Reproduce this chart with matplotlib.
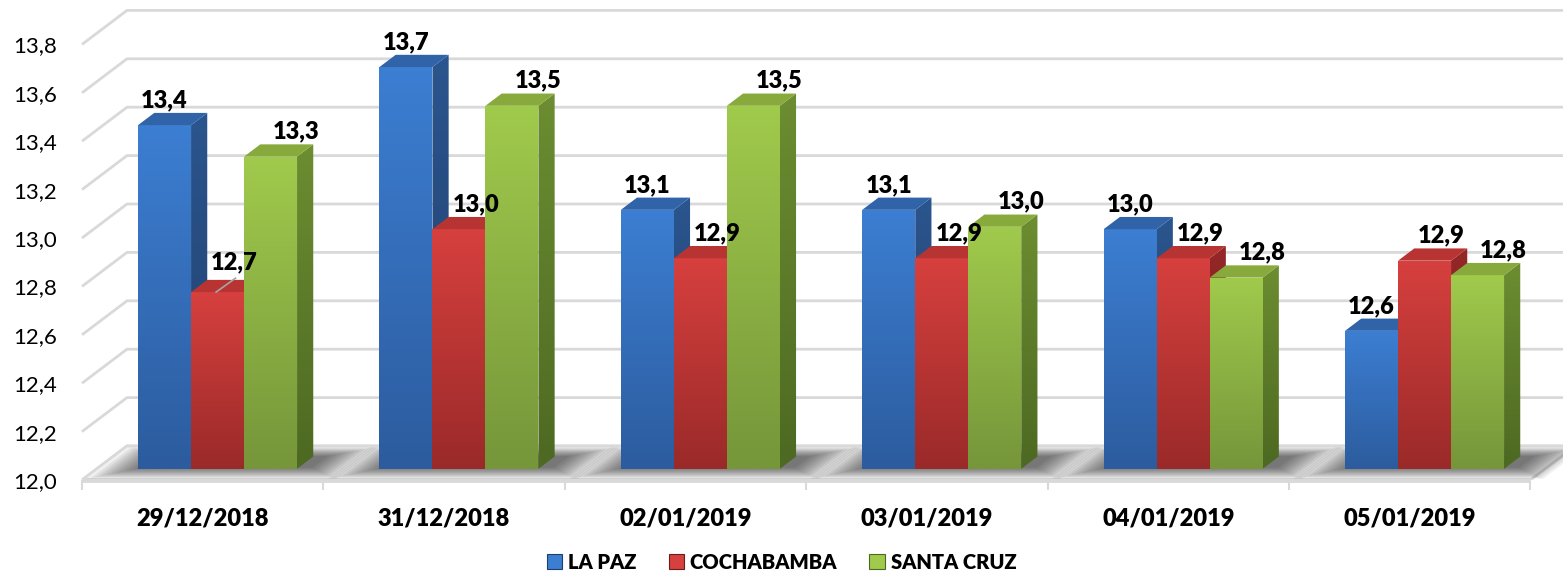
import numpy as np
import matplotlib.pyplot as plt
from matplotlib.patches import Polygon, Patch
from matplotlib.colors import to_rgb

plt.rcParams['font.family'] = ['Lato', 'DejaVu Sans']

# data
dates = ['29/12/2018', '31/12/2018', '02/01/2019', '03/01/2019', '04/01/2019', '05/01/2019']
series = ['LA PAZ', 'COCHABAMBA', 'SANTA CRUZ']
la_paz = [13.42, 13.66, 13.07, 13.07, 12.99, 12.57]
cochabamba = [12.73, 12.99, 12.87, 12.87, 12.87, 12.86]
santa_cruz = [13.29, 13.50, 13.50, 13.00, 12.79, 12.80]
values = [la_paz, cochabamba, santa_cruz]
yticks = [12.0, 12.2, 12.4, 12.6, 12.8, 13.0, 13.2, 13.4, 13.6, 13.8]

# colours: front top, front bottom, side top, side bottom, top face
colors = [
    ('#3C7ED2', '#2C5C9E', '#2B558E', '#203F6C', '#3163A8'),
    ('#D6403E', '#9A2A29', '#952727', '#6E1C1C', '#B83433'),
    ('#A0CA4C', '#76963A', '#6C8D31', '#4D6922', '#88AA3C'),
]
grid_c = '#D9D9D9'

W, H = 1563, 587
fig = plt.figure(figsize=(W / 100, H / 100), dpi=100)
left_px, base_px = 82, 480
ax = fig.add_axes([left_px / W, (H - base_px) / H, (W - left_px) / W, base_px / H])

px_x = 1 / 241.4   # category units per pixel
px_y = 1 / 242.0   # value units per pixel
xmin = -0.5
xmax = xmin + (W - left_px) * px_x
ymin = 12.0
ymax = ymin + base_px * px_y

Dx, Dy = 45 * px_x, 34 * px_y          # floor depth
sx, sy = 0.33 * Dx, 0.33 * Dy           # bar front plane shift
bdx, bdy = 0.36 * Dx, 0.36 * Dy         # bar depth
BW = 53 * px_x
n = len(dates)
heavy = 'heavy'


def gradient_fill(poly_pts, c_top, c_bot, z, box):
    x0, x1, y0, y1 = box
    g = np.linspace(0, 1, 64)[:, None]
    a, b = np.array(to_rgb(c_top)), np.array(to_rgb(c_bot))
    img = (a * (1 - g) + b * g)[:, None, :].repeat(2, axis=1)
    im = ax.imshow(img, extent=[x0, x1, y0, y1], aspect='auto', zorder=z,
                   interpolation='bilinear')
    clip = Polygon(poly_pts, closed=True, transform=ax.transData)
    im.set_clip_path(clip)


# back wall gridlines and left wall diagonals
for v in yticks:
    ax.plot([xmin, xmin + Dx, xmax + 0.2], [v, v + Dy, v + Dy], color=grid_c,
            lw=2, zorder=1, clip_on=False, solid_capstyle='butt')

# floor
floor = Polygon([(xmin, ymin), (n - 0.5, ymin), (n - 0.5 + Dx, ymin + Dy),
                 (xmin + Dx, ymin + Dy)], closed=True, facecolor='white',
                edgecolor=grid_c, lw=2, zorder=1.2)
ax.add_patch(floor)
ax.plot([xmin, n - 0.5], [ymin, ymin], color=grid_c, lw=3.5, zorder=1.3,
        clip_on=False, solid_capstyle='butt')

# soft shadows on floor
for i in range(n):
    xl, xr = i - 1.5 * BW, i + 1.5 * BW
    for k in range(12):
        e = k * 3.5 * px_x
        d0 = max(0.04, 0.36 - 0.03 * k)
        d1 = min(0.96, 0.70 + 0.025 * k)
        pts = [(xl - e + d0 * Dx, ymin + d0 * Dy), (xr + 14 * px_x + e + d0 * Dx, ymin + d0 * Dy),
               (xr + 14 * px_x + e + d1 * Dx, ymin + d1 * Dy), (xl - e + d1 * Dx, ymin + d1 * Dy)]
        ax.add_patch(Polygon(pts, closed=True, facecolor='#000000', alpha=0.06,
                             lw=0, zorder=1.5))

# bars
label_dx = [0, 17, 26]  # px
for i in range(n):
    for j in range(3):
        v = values[j][i]
        ft, fb, st, sb, tc = colors[j]
        z = 3 + j * 0.1
        x0 = i - 1.5 * BW + j * BW + sx
        x1 = x0 + BW
        y0 = ymin + sy
        y1 = v + sy
        front = [(x0, y0), (x1, y0), (x1, y1), (x0, y1)]
        gradient_fill(front, ft, fb, z, (x0, x1, y0, y1))
        side = [(x1, y0), (x1 + bdx, y0 + bdy), (x1 + bdx, y1 + bdy), (x1, y1)]
        gradient_fill(side, st, sb, z + 0.01, (x1, x1 + bdx, y0, y1 + bdy))
        top = [(x0, y1), (x1, y1), (x1 + bdx, y1 + bdy), (x0 + bdx, y1 + bdy)]
        ax.add_patch(Polygon(top, closed=True, facecolor=tc, edgecolor='none',
                             zorder=z + 0.02))
        # data label
        lx = (x0 + x1) / 2 + label_dx[j] * px_x
        lift = 18
        if i == 0 and j == 1:
            lift = 23
            ax.plot([x0 + 25 * px_x, lx + 1 * px_x], [y1, y1 + 14 * px_y],
                    color='#A6A6A6', lw=1.2, zorder=6)
        ax.text(lx, y1 + lift * px_y, f'{v:.1f}'.replace('.', ','), ha='center',
                va='baseline', fontsize=17, fontweight=heavy, zorder=7)

ax.set_xlim(xmin, xmax)
ax.set_ylim(ymin, ymax)
for s in ax.spines.values():
    s.set_visible(False)

ax.set_yticks(yticks)
ax.set_yticklabels([f'{t:.1f}'.replace('.', ',') for t in yticks], fontsize=16)
ax.tick_params(axis='y', length=0, pad=18)

ax.set_xticks(range(n))
ax.set_xticklabels(dates, fontsize=17, fontweight=heavy)
ax.set_xticks(np.arange(n + 1) - 0.5, minor=True)
ax.tick_params(axis='x', which='major', length=0, pad=20)
ax.tick_params(axis='x', which='minor', length=7.5, width=1.5, color=grid_c)

handles = [Patch(facecolor=c[0], edgecolor=c[3], lw=0.8) for c in colors]
fig.legend(handles, series, loc='lower center', bbox_to_anchor=(0.5, -0.005), ncol=3,
           frameon=False, prop={'size': 14.5, 'weight': heavy}, handlelength=0.75,
           handleheight=0.75, handletextpad=0.3, columnspacing=1.6)

fig.savefig('out.png', dpi=100)
